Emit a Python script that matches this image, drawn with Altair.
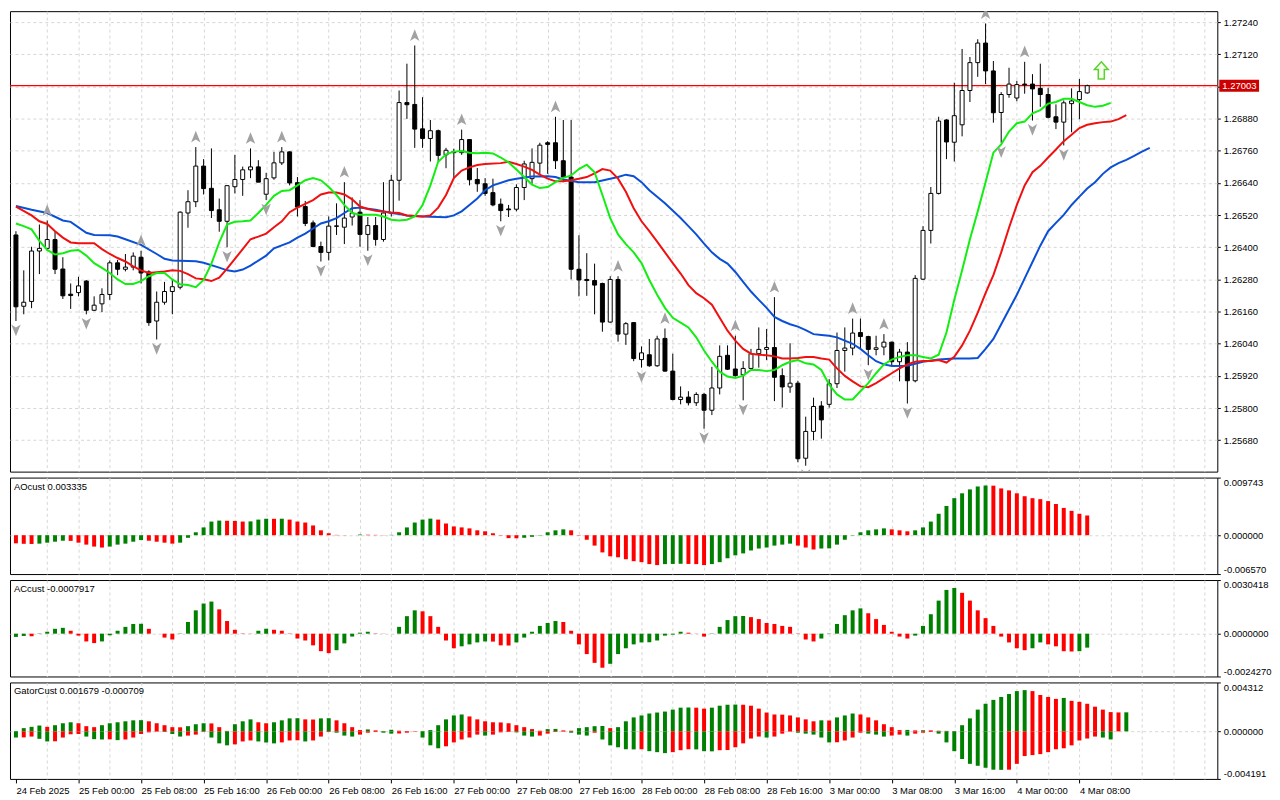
import altair as alt
import pandas as pd

# ---------------- price data (H1 candles, bar index 0 = 24 Feb 16:00) ----------------
opens = [1.26446,1.26180,1.26198,1.26386,1.26396,1.26429,1.26319,1.26225,1.26231,1.26274,
1.26165,1.26189,1.26224,1.26342,1.26318,1.26326,1.26363,1.26308,1.26125,1.26195,
1.26235,1.26251,1.26528,1.26570,1.26703,1.26620,1.26540,1.26497,1.26626,1.26653,
1.26689,1.26700,1.26598,1.26659,1.26715,1.26756,1.26641,1.26552,1.26491,1.26403,
1.26381,1.26478,1.26475,1.26513,1.26531,1.26448,1.26481,1.26429,1.26528,1.26650,
1.26940,1.26933,1.26842,1.26806,1.26835,1.26745,1.26757,1.26753,1.26802,1.26653,
1.26637,1.26604,1.26561,1.26543,1.26542,1.26623,1.26656,1.26714,1.26790,1.26790,
1.26723,1.26662,1.26318,1.26280,1.26276,1.26265,1.26121,1.26280,1.26076,1.26119,
1.25981,1.25999,1.25958,1.26060,1.25938,1.25832,1.25841,1.25820,1.25851,1.25792,
1.25875,1.25997,1.25946,1.25924,1.25948,1.26003,1.26019,1.26026,1.25921,1.25879,
1.25893,1.25613,1.25713,1.25808,1.25814,1.25891,1.26015,1.26024,1.26082,1.26067,
1.26019,1.26028,1.26046,1.25973,1.26009,1.25902,1.26281,1.26463,1.26601,1.26875,
1.26792,1.26857,1.26985,1.27089,1.27162,1.27058,1.26903,1.26970,1.26957,1.27009,
1.27009,1.26993,1.26970,1.26887,1.26867,1.26936,1.26951,1.26976]
highs = [1.26460,1.26314,1.26402,1.26485,1.26500,1.26460,1.26363,1.26265,1.26290,1.26278,
1.26217,1.26247,1.26351,1.26353,1.26375,1.26381,1.26387,1.26314,1.26235,1.26271,
1.26278,1.26534,1.26613,1.26774,1.26729,1.26769,1.26582,1.26631,1.26745,1.26701,
1.26769,1.26725,1.26678,1.26756,1.26774,1.26758,1.26662,1.26573,1.26500,1.26421,
1.26515,1.26564,1.26643,1.26586,1.26576,1.26513,1.26513,1.26643,1.26670,1.26985,
1.27085,1.27153,1.26960,1.26875,1.26839,1.26771,1.26768,1.26839,1.26803,1.26696,
1.26658,1.26656,1.26582,1.26558,1.26635,1.26723,1.26769,1.26790,1.26796,1.26887,
1.26875,1.26875,1.26445,1.26378,1.26339,1.26268,1.26292,1.26292,1.26121,1.26121,
1.26030,1.26058,1.26070,1.26097,1.26003,1.25881,1.25863,1.25859,1.25857,1.25954,
1.26034,1.26034,1.26070,1.25975,1.26021,1.26101,1.26095,1.26214,1.25948,1.26042,
1.25902,1.25768,1.25839,1.25826,1.25908,1.26082,1.26101,1.26134,1.26134,1.26070,
1.26070,1.26076,1.26048,1.26021,1.26046,1.26296,1.26479,1.26625,1.26887,1.26878,
1.27014,1.27140,1.27110,1.27176,1.27235,1.27095,1.26979,1.27070,1.27021,1.27092,
1.27046,1.27085,1.26995,1.26933,1.26948,1.26993,1.27028,1.27007]
lows = [1.26125,1.26150,1.26173,1.26300,1.26387,1.26300,1.26207,1.26170,1.26217,1.26150,
1.26162,1.26158,1.26204,1.26296,1.26310,1.26314,1.26265,1.26107,1.26056,1.26186,
1.26150,1.26243,1.26473,1.26550,1.26597,1.26509,1.26458,1.26400,1.26601,1.26592,
1.26658,1.26643,1.26576,1.26652,1.26707,1.26631,1.26515,1.26479,1.26400,1.26347,
1.26351,1.26446,1.26412,1.26481,1.26402,1.26387,1.26406,1.26421,1.26515,1.26574,
1.26879,1.26771,1.26771,1.26720,1.26720,1.26695,1.26656,1.26745,1.26631,1.26607,
1.26592,1.26553,1.26497,1.26513,1.26534,1.26576,1.26637,1.26674,1.26674,1.26692,
1.26643,1.26280,1.26217,1.26219,1.26150,1.26085,1.26119,1.26048,1.26036,1.25975,
1.25951,1.25954,1.25954,1.25936,1.25829,1.25814,1.25810,1.25808,1.25723,1.25774,
1.25851,1.25942,1.25918,1.25829,1.25945,1.25951,1.25979,1.25826,1.25802,1.25857,
1.25598,1.25585,1.25680,1.25686,1.25802,1.25875,1.25936,1.25997,1.26021,1.25960,
1.25997,1.25997,1.25960,1.25900,1.25817,1.25896,1.26278,1.26414,1.26597,1.26729,
1.26720,1.26814,1.26942,1.27036,1.27009,1.26865,1.26790,1.26958,1.26945,1.26973,
1.26873,1.26924,1.26881,1.26841,1.26780,1.26829,1.26878,1.26973]
closes = [1.26178,1.26195,1.26386,1.26396,1.26429,1.26318,1.26219,1.26220,1.26256,1.26165,
1.26184,1.26224,1.26342,1.26318,1.26326,1.26367,1.26304,1.26119,1.26195,1.26235,
1.26253,1.26531,1.26570,1.26703,1.26619,1.26537,1.26497,1.26630,1.26653,1.26689,
1.26700,1.26643,1.26656,1.26715,1.26756,1.26640,1.26550,1.26489,1.26403,1.26381,
1.26479,1.26480,1.26509,1.26528,1.26448,1.26481,1.26429,1.26528,1.26650,1.26940,
1.26932,1.26841,1.26806,1.26835,1.26743,1.26762,1.26753,1.26802,1.26652,1.26637,
1.26601,1.26558,1.26537,1.26540,1.26623,1.26711,1.26717,1.26781,1.26784,1.26723,
1.26662,1.26318,1.26278,1.26276,1.26259,1.26121,1.26280,1.26076,1.26115,1.25985,
1.26006,1.25958,1.26058,1.25938,1.25832,1.25841,1.25820,1.25851,1.25792,1.25875,
1.25993,1.25945,1.25921,1.25948,1.26003,1.26019,1.26026,1.25915,1.25879,1.25893,
1.25611,1.25713,1.25806,1.25756,1.25891,1.26015,1.26024,1.26080,1.26067,1.26019,
1.26025,1.26046,1.25973,1.26009,1.25902,1.26284,1.26463,1.26601,1.26871,1.26793,
1.26891,1.26985,1.27089,1.27162,1.27058,1.26902,1.26970,1.27009,1.27007,1.27006,
1.26991,1.26970,1.26885,1.26867,1.26939,1.26946,1.26981,1.27003]

time_labels = ["24 Feb 2025", "25 Feb 00:00", "25 Feb 08:00", "25 Feb 16:00", "26 Feb 00:00",
               "26 Feb 08:00", "26 Feb 16:00", "27 Feb 00:00", "27 Feb 08:00", "27 Feb 16:00",
               "28 Feb 00:00", "28 Feb 08:00", "28 Feb 16:00", "3 Mar 00:00", "3 Mar 08:00",
               "3 Mar 16:00", "4 Mar 00:00", "4 Mar 08:00"]
price_ticks = [1.25680, 1.25800, 1.25920, 1.26040, 1.26160, 1.26280, 1.26400, 1.26520,
               1.26640, 1.26760, 1.26880, 1.27000, 1.27120, 1.27240]

# ---------------- Alligator lines (shifted as displayed) ----------------
jaw_x = [0,2,4,6,7,9,10,12,13,14,16,18,19,20,23,24,26,27,28,29,30,32,33,35,36,37,38,39,40,41,
         42,43,44,46,48,49,50,52,55,56,57,58,59,60,61,63,64,66,68,69,70,72,74,76,77,78,79,80,81,83,
         85,86,87,88,89,90,91,92,93,94,95,96,97,98,99,100,101,102,103,104,105,106,107,108,109,110,
         111,112,114,116,118,120,122,123,124,125,126,127,128,129,130,131,132,133,134,135,136,137,
         138,139,140,141,142,143,144,145]
jaw_y = [1.26554,1.26540,1.26528,1.26500,1.26495,1.26454,1.26446,1.26445,1.26440,1.26430,
         1.26409,1.26375,1.26357,1.26351,1.26348,1.26342,1.26324,1.26314,1.26310,1.26317,
         1.26332,1.26369,1.26396,1.26418,1.26436,1.26451,1.26470,1.26489,1.26497,1.26509,
         1.26528,1.26546,1.26548,1.26540,1.26528,1.26524,1.26519,1.26515,1.26512,1.26519,
         1.26534,1.26558,1.26582,1.26613,1.26631,1.26650,1.26656,1.26664,1.26665,1.26662,
         1.26653,1.26643,1.26643,1.26656,1.26662,1.26671,1.26665,1.26643,1.26613,1.26564,
         1.26509,1.26479,1.26448,1.26414,1.26381,1.26357,1.26339,1.26308,1.26271,1.26235,
         1.26204,1.26174,1.26140,1.26125,1.26113,1.26104,1.26091,1.26076,1.26073,1.26070,
         1.26064,1.26052,1.26040,1.26021,1.25997,1.25975,1.25963,1.25957,1.25958,1.25973,
         1.25981,1.25985,1.25985,1.25987,1.26021,1.26058,1.26113,1.26168,1.26223,1.26284,
         1.26345,1.26406,1.26460,1.26491,1.26521,1.26558,1.26589,1.26619,1.26643,1.26674,
         1.26698,1.26714,1.26726,1.26741,1.26757,1.26771]
teeth_x = [0,2,3,4,5,6,7,8,10,11,12,13,14,15,16,17,18,19,20,21,22,23,24,25,26,27,28,29,30,31,
           32,33,34,35,36,37,38,39,40,41,42,43,44,45,46,48,49,50,52,53,54,55,56,57,58,59,60,62,63,64,
           65,66,67,68,69,70,71,72,73,74,75,76,77,78,79,80,81,82,83,84,85,86,87,88,89,90,91,92,93,94,
           95,96,97,98,99,100,101,102,103,104,105,106,107,108,109,110,111,112,113,114,115,116,117,118,
           119,120,121,122,123,124,125,126,127,128,129,130,131,132,133,134,135,136,137,138,139,140,141,142]
teeth_y = [1.26552,1.26519,1.26497,1.26487,1.26460,1.26436,1.26418,1.26415,1.26415,1.26393,
           1.26375,1.26360,1.26347,1.26329,1.26314,1.26304,1.26307,1.26310,1.26314,1.26312,
           1.26300,1.26284,1.26281,1.26274,1.26287,1.26320,1.26357,1.26393,1.26430,1.26440,
           1.26451,1.26475,1.26497,1.26531,1.26548,1.26562,1.26576,1.26597,1.26604,1.26604,
           1.26597,1.26579,1.26552,1.26543,1.26536,1.26530,1.26528,1.26519,1.26515,1.26519,
           1.26548,1.26595,1.26658,1.26686,1.26698,1.26707,1.26711,1.26714,1.26719,1.26711,
           1.26701,1.26689,1.26671,1.26656,1.26646,1.26646,1.26650,1.26656,1.26662,1.26676,
           1.26692,1.26686,1.26656,1.26607,1.26546,1.26497,1.26460,1.26421,1.26381,1.26341,
           1.26302,1.26259,1.26229,1.26210,1.26186,1.26137,1.26089,1.26052,1.26021,1.26003,
           1.25999,1.25997,1.25993,1.25985,1.25985,1.25987,1.25991,1.25991,1.25985,1.25981,
           1.25948,1.25920,1.25900,1.25881,1.25878,1.25893,1.25912,1.25930,1.25948,1.25963,
           1.25973,1.25976,1.25976,1.25979,1.25970,1.25991,1.26034,1.26089,1.26156,1.26229,
           1.26296,1.26381,1.26473,1.26558,1.26631,1.26680,1.26704,1.26735,1.26765,1.26796,
           1.26820,1.26845,1.26857,1.26863,1.26867,1.26869,1.26878,1.26893]
lips_x = [k for k in range(0, 141) if k != 45]
lips_y = [1.26489,1.26479,1.26467,1.26424,1.26390,1.26373,1.26378,1.26387,1.26390,1.26369,
          1.26341,1.26323,1.26304,1.26280,1.26263,1.26263,1.26274,1.26292,1.26304,1.26304,
          1.26280,1.26262,1.26259,1.26251,1.26278,1.26339,1.26418,1.26485,1.26495,1.26497,
          1.26500,1.26528,1.26558,1.26592,1.26610,1.26613,1.26631,1.26650,1.26658,1.26650,
          1.26625,1.26595,1.26558,1.26528,1.26521,1.26521,1.26515,1.26503,1.26500,1.26503,
          1.26515,1.26558,1.26631,1.26719,1.26747,1.26757,1.26759,1.26753,1.26751,1.26753,
          1.26750,1.26735,1.26717,1.26690,1.26662,1.26634,1.26621,1.26625,1.26643,1.26659,
          1.26668,1.26692,1.26708,1.26680,1.26595,1.26509,1.26448,1.26412,1.26381,1.26341,
          1.26278,1.26223,1.26174,1.26137,1.26119,1.26101,1.26064,1.26015,1.25973,1.25936,
          1.25918,1.25912,1.25921,1.25942,1.25942,1.25938,1.25942,1.25960,1.25973,1.25979,
          1.25967,1.25963,1.25942,1.25887,1.25851,1.25832,1.25832,1.25863,1.25893,1.25930,
          1.25963,1.25981,1.25991,1.25997,1.25997,1.25991,1.25985,1.25999,1.26082,1.26204,
          1.26314,1.26430,1.26534,1.26643,1.26753,1.26784,1.26832,1.26863,1.26869,1.26900,
          1.26912,1.26936,1.26942,1.26954,1.26954,1.26942,1.26930,1.26924,1.26928,1.26939]

fractal_up_bars = [4, 16, 23, 30, 34, 42, 51, 57, 69, 77, 83, 92, 97, 107, 111, 124, 129]
fractal_down_bars = [0, 9, 18, 27, 32, 39, 45, 62, 80, 88, 93, 101, 109, 114, 126, 130, 134]
signal_bar = [138.8]
signal_price = [1.27060]

# ---------------- oscillators (values in millionths) ----------------
ao_e6 = [-1373,-1456,-1483,-1428,-1263,-1099,-934,-961,-1263,-1593,
-1923,-2087,-1923,-1593,-1428,-1099,-824,-934,-1099,-1263,
-1428,-1263,-439,494,1318,2307,2472,2444,2417,2307,
2335,2637,2801,2774,2790,2637,2307,2142,1648,824,
330,55,-27,5,110,82,55,27,55,494,
1318,2142,2637,2801,2637,1977,1483,1318,1154,824,
659,330,-55,-494,-522,-439,-275,-55,494,824,
989,824,-55,-769,-1758,-2911,-3570,-3735,-4065,-4394,
-4559,-4889,-5054,-4889,-4861,-4834,-4861,-4889,-5054,-4889,
-4559,-3900,-3406,-3076,-2582,-2252,-2087,-1758,-1593,-1428,
-1758,-2087,-2417,-2252,-2225,-1593,-769,-55,494,824,
989,1154,989,824,659,824,1318,2307,3625,4944,
6262,7086,7745,8240,8404,8377,7910,7580,7086,6592,
6262,6097,5768,5273,4614,4120,3625,3335]
ac_e6 = [-184,-129,-147,18,110,276,331,165,-110,-441,
-533,-441,-92,165,386,551,561,276,0,-221,
-331,-18,662,1323,1709,1820,1379,717,221,18,
9,165,276,221,165,18,-276,-386,-662,-993,
-1103,-937,-551,-165,55,110,18,9,0,386,
993,1323,1268,993,386,-386,-827,-717,-607,-496,
-441,-450,-662,-671,-496,-221,110,441,607,717,
662,165,-607,-1158,-1654,-1930,-1709,-1158,-827,-607,
-496,-487,-386,-110,-55,110,55,9,-165,-18,
386,772,993,1002,937,827,607,551,441,386,
-18,-331,-441,-276,18,551,1048,1323,1434,1158,
827,496,110,-165,-276,-110,441,1103,1875,2481,
2592,2316,1875,1323,882,441,-165,-496,-827,-937,
-827,-496,-607,-717,-993,-1011,-993,-791.7]
gator_up_e6 = [29,286,401,515,401,544,716,802,716,458,
372,544,716,802,888,973,988,888,716,544,
372,358,458,630,716,701,372,43,630,888,
1059,802,716,802,973,1145,1160,1059,1045,1145,
1160,973,716,372,115,172,86,29,143,57,
29,14,29,115,544,1059,1403,1489,1317,1059,
888,802,787,716,544,372,200,57,200,215,
86,57,286,372,458,472,286,372,888,1231,
1403,1575,1661,1746,1918,2090,2104,2090,2004,2090,
2262,2348,2362,2348,2262,2004,1661,1489,1474,1403,
1231,1059,888,973,959,1231,1403,1575,1489,1231,
973,630,372,115,129,86,100,86,57,43,
29,544,1145,1918,2434,2777,3035,3292,3550,3636,
3550,3207,3035,2863,2949,2691,2605,2434,2176,1918,
1700,1670,1679]
gator_down_e6 = [-544,-530,-458,-658,-888,-873,-544,-258,-229,-458,
-687,-716,-701,-773,-716,-544,-229,-86,-29,-57,
-229,-458,-372,-286,-43,-544,-1059,-1231,-1145,-888,
-802,-888,-973,-1059,-973,-802,-787,-888,-802,-458,
-57,-115,-372,-458,-286,-115,-57,-115,-200,-186,
-115,-29,-544,-1231,-1489,-1317,-973,-716,-544,-286,
-372,-286,-86,-57,-86,-372,-458,-372,-200,-57,
-29,-115,-286,-372,-115,-716,-1231,-1403,-1575,-1589,
-1575,-1746,-1832,-1918,-1832,-1661,-1575,-1589,-1746,-1761,
-1661,-1646,-1403,-1059,-630,-458,-544,-458,-200,-29,
-115,-200,-286,-544,-973,-959,-802,-544,-115,-200,
-286,-458,-372,-286,-372,-200,-115,-57,-200,-973,
-1746,-2434,-2863,-3035,-3207,-3378,-3393,-3378,-2863,-2176,
-2090,-2004,-1832,-1575,-1489,-1231,-802,-630,-458,-544,
-709]

ao = [v / 1e6 for v in ao_e6]
ac = [v / 1e6 for v in ac_e6]
gator_up = [v / 1e6 for v in gator_up_e6]
gator_down = [v / 1e6 for v in gator_down_e6]

AO_DOMAIN = [-0.006570, 0.009743]
AC_DOMAIN = [-0.0024270, 0.0030418]
GATOR_DOMAIN = [-0.004191, 0.004312]

# ---------------- styling ----------------
FONT = "Liberation Sans"
FS = 9.5
GRID = "#d6d6d6"
W = 1214
H_MAIN = 463
H_SUB = 97
X_DOMAIN = [-0.125, 153]
PRICE_DOMAIN = [1.25563, 1.27281]
grid_vals = list(range(0, 153, 4))
last_label_bar = 8 * (len(time_labels) - 1)

arr = ",".join("'%s'" % s for s in time_labels)
label_expr = ("datum.value %% 8 === 0 && datum.value / 8 < %d ? [%s][datum.value / 8] : ''"
              % (len(time_labels), arr))
grid_op_x = {"condition": {"test": "datum.value > 0", "value": 1}, "value": 0}

x_axis_plain = alt.Axis(values=grid_vals, labels=False, ticks=False, domain=False, grid=True,
                        gridColor=GRID, gridDash=[3, 3], gridOpacity=grid_op_x, title=None)
x_axis_time = alt.Axis(values=grid_vals, labelExpr=label_expr, labelAlign="left", labelFlush=False,
                       labelOverlap=False, labelPadding=3, tickSize=4,
                       tickOpacity={"condition": {"test": "datum.value %% 8 === 0 && datum.value <= %d"
                                                  % last_label_bar, "value": 1}, "value": 0},
                       domain=False, grid=True, gridColor=GRID, gridDash=[3, 3],
                       gridOpacity=grid_op_x, title=None)


def X(axis):
    return alt.X("i:Q", scale=alt.Scale(domain=X_DOMAIN, nice=False, zero=False), axis=axis)


price_axis = alt.Axis(orient="right", values=price_ticks, format=".5f", labelOverlap=False,
                      tickSize=3, labelPadding=3, domain=False, grid=True, gridColor=GRID,
                      gridDash=[3, 3], title=None)


def PY(field):
    return alt.Y(field, type="quantitative",
                 scale=alt.Scale(domain=PRICE_DOMAIN, nice=False, zero=False), axis=price_axis)


# ---------------- main price panel ----------------
cdf = pd.DataFrame({"i": list(range(len(closes))), "open": opens, "high": highs,
                    "low": lows, "close": closes})

last_df = pd.DataFrame({"p": [closes[-1]], "lbl": ["%.5f" % closes[-1]]})

price_line = alt.Chart(last_df).mark_rule(color="#ff0000", strokeWidth=1.2).encode(y=PY("p"))

wicks = alt.Chart(cdf).mark_rule(color="black", strokeWidth=1).encode(
    x=X(x_axis_plain), y=PY("low"), y2="high:Q")

bodies = alt.Chart(cdf).mark_bar(size=4, stroke="black", strokeWidth=1).encode(
    x=X(x_axis_plain), y=PY("open"), y2="close:Q",
    fill=alt.condition("datum.close >= datum.open", alt.value("white"), alt.value("black")))


def line_layer(xs, ys, color):
    df = pd.DataFrame({"i": xs, "p": ys})
    return alt.Chart(df).mark_line(color=color, strokeWidth=2).encode(x=X(x_axis_plain), y=PY("p"))


jaw_l = line_layer(jaw_x, jaw_y, "#0a4fd6")
teeth_l = line_layer(teeth_x, teeth_y, "#f01010")
lips_l = line_layer(lips_x, lips_y, "#12ee12")

UP_PATH = "M0,-1L0.75,0.85L0,0.4L-0.75,0.85Z"
DOWN_PATH = "M0,1L0.75,-0.85L0,-0.4L-0.75,-0.85Z"
fu = pd.DataFrame({"i": fractal_up_bars, "p": [highs[b] for b in fractal_up_bars]})
fd = pd.DataFrame({"i": fractal_down_bars, "p": [lows[b] for b in fractal_down_bars]})
frac_up = alt.Chart(fu).mark_point(shape=UP_PATH, filled=True, color="#a2a2a2", size=160,
                                   yOffset=-10, opacity=1, clip=True).encode(
    x=X(x_axis_plain), y=PY("p"))
frac_down = alt.Chart(fd).mark_point(shape=DOWN_PATH, filled=True, color="#a2a2a2", size=160,
                                     yOffset=9, opacity=1, clip=True).encode(
    x=X(x_axis_plain), y=PY("p"))

SIG_PATH = "M0,-1L0.8,-0.1L0.35,-0.1L0.35,1L-0.35,1L-0.35,-0.1L-0.8,-0.1Z"
sdf = pd.DataFrame({"i": signal_bar, "p": signal_price})
signal = alt.Chart(sdf).mark_point(shape=SIG_PATH, filled=True, fill="#f4ffec", stroke="#5ad22e",
                                   strokeWidth=1.5, size=300, opacity=1).encode(
    x=X(x_axis_plain), y=PY("p"))

price_box = alt.Chart(last_df).mark_rect(color="#cc0000", yOffset=-6, y2Offset=6, clip=False).encode(
    x=alt.value(W + 2), x2=alt.value(W + 42), y=PY("p"), y2="p:Q")
price_txt = alt.Chart(last_df).mark_text(align="left", baseline="middle", color="white",
                                         font=FONT, fontSize=FS).encode(
    x=alt.value(W + 5), y=PY("p"), text="lbl:N")

main = alt.layer(price_line, wicks, bodies, jaw_l, teeth_l, lips_l, frac_up, frac_down,
                 signal, price_box, price_txt).properties(width=W, height=H_MAIN)

# ---------------- oscillator panels ----------------
HIST_COLORS = alt.Scale(domain=["up", "down"], range=["#008000", "#ff0000"])


def hist_df(vals, first_up, by_magnitude=False):
    mags = [abs(v) for v in vals] if by_magnitude else list(vals)
    dirs = ["up" if first_up else "down"]
    for k in range(1, len(vals)):
        dirs.append("up" if mags[k] > mags[k - 1] else "down")
    return pd.DataFrame({"i": list(range(len(vals))), "v": vals, "dir": dirs})


def sub_axis(lo, hi, fmt):
    return alt.Axis(orient="right", values=[lo, 0, hi],
                    labelExpr="replace(format(datum.value, '%s'), '\u2212', '-')" % fmt,
                    labelFlush=True, labelOverlap=False, tickSize=3, labelPadding=3, domain=False,
                    grid=True, gridColor=GRID, gridDash=[3, 3],
                    gridOpacity={"condition": {"test": "datum.value === 0", "value": 1}, "value": 0},
                    title=None)


def hist_layer(df, dom, fmt, xaxis):
    return alt.Chart(df).mark_bar(size=4).encode(
        x=X(xaxis),
        y=alt.Y("v:Q", stack=None, scale=alt.Scale(domain=dom, nice=False, zero=False),
                axis=sub_axis(dom[0], dom[1], fmt)),
        color=alt.Color("dir:N", scale=HIST_COLORS, legend=None))


def title_layer(text):
    return alt.Chart(pd.DataFrame({"t": [text]})).mark_text(
        align="left", baseline="top", font=FONT, fontSize=FS, color="black").encode(
        x=alt.value(4), y=alt.value(4), text="t:N")


ao_panel = alt.layer(
    hist_layer(hist_df(ao, False), AO_DOMAIN, ".6f", x_axis_plain),
    title_layer("AOcust %.6f" % ao[-1])).properties(width=W, height=H_SUB)

ac_panel = alt.layer(
    hist_layer(hist_df(ac, True), AC_DOMAIN, ".7f", x_axis_plain),
    title_layer("ACcust %.7f" % ac[-1])).properties(width=W, height=H_SUB)

gator_panel = alt.layer(
    hist_layer(hist_df(gator_up, True, True), GATOR_DOMAIN, ".6f", x_axis_time),
    hist_layer(hist_df(gator_down, True, True), GATOR_DOMAIN, ".6f", x_axis_time),
    title_layer("GatorCust %.6f %.6f" % (gator_up[-1], gator_down[-1]))
).properties(width=W, height=H_SUB)

chart = alt.vconcat(main, ao_panel, ac_panel, gator_panel, spacing=4).properties(
    padding={"left": 0, "top": 0, "right": 0, "bottom": 0}, background="white"
).configure_view(stroke="black", strokeWidth=1).configure_axis(
    labelFont=FONT, labelFontSize=FS, labelColor="black", tickColor="black")

chart.save("out.html", embed_options={"renderer": "svg", "actions": False})
